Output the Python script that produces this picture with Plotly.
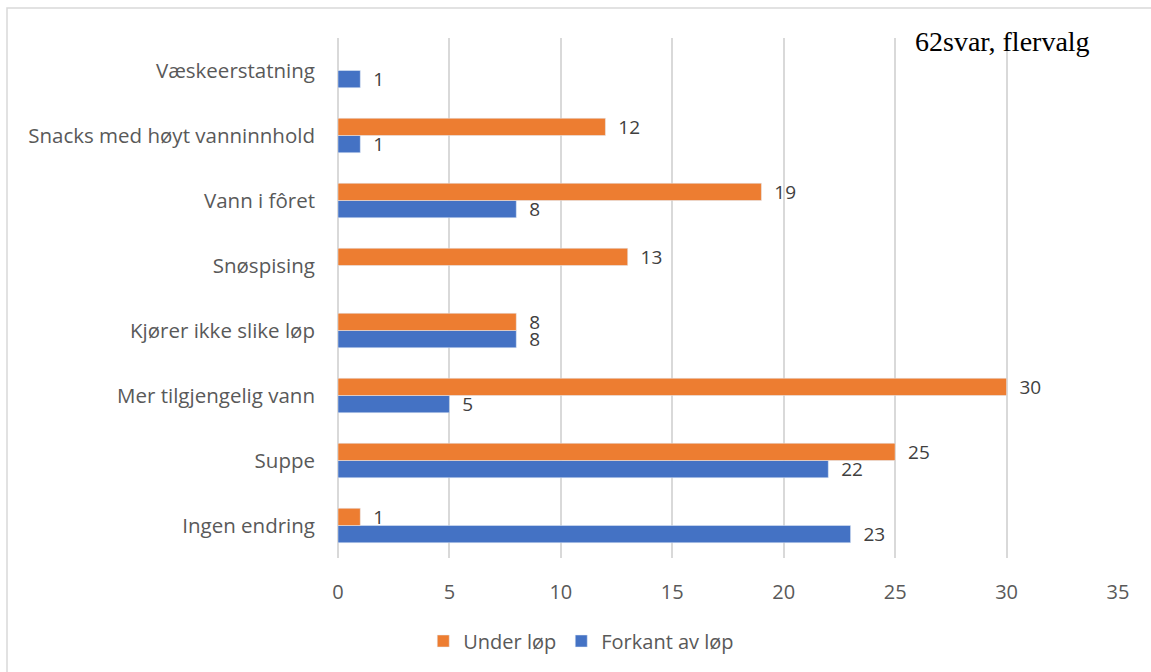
import plotly.graph_objects as go

categories = [
    "Ingen endring",
    "Suppe",
    "Mer tilgjengelig vann",
    "Kjører ikke slike løp",
    "Snøspising",
    "Vann i fôret",
    "Snacks med høyt vanninnhold",
    "Væskeerstatning",
]
under_lop = [1, 25, 30, 8, 13, 19, 12, None]
forkant_av_lop = [23, 22, 5, 8, None, 8, 1, 1]

ORANGE = "#ED7D31"
BLUE = "#4472C4"
FONT = "Open Sans"
TEXT_COLOR = "#595959"
FS = 20

W, H = 1151, 672
L, R, T, B = 338, 33, 38, 114

fig = go.Figure()
for name, vals, color, rank in [
    ("Forkant av løp", forkant_av_lop, BLUE, 2),
    ("Under løp", under_lop, ORANGE, 1),
]:
    fig.add_trace(go.Bar(
        y=categories, x=vals, name=name, orientation="h",
        marker=dict(color=color), legendrank=rank,
        texttemplate="\u00a0\u00a0%{x}", textposition="outside",
        cliponaxis=False, constraintext="none",
        textfont=dict(family=FONT, size=19, color="#404040"),
    ))

pw = W - L - R
ph = H - T - B
# light frame around the whole chart
fig.add_shape(
    type="rect", xref="paper", yref="paper",
    x0=(7 - L) / pw, x1=(W + 10 - L) / pw,
    y0=(H - B - (H + 10)) / ph, y1=(H - B - 8) / ph,
    line=dict(color="#d9d9d9", width=1.5), layer="below",
)
fig.add_annotation(
    text="62svar, flervalg", xref="paper", yref="paper",
    x=(1002 - L) / pw, y=(H - B - 42) / ph, showarrow=False,
    xanchor="center", yanchor="middle",
    font=dict(family="Liberation Serif", size=28, color="#000000"),
)

fig.update_layout(
    width=W, height=H,
    margin=dict(l=L, r=R, t=T, b=B),
    paper_bgcolor="white", plot_bgcolor="white",
    barmode="group", bargap=0.47, bargroupgap=0,
    font=dict(family=FONT, size=FS, color=TEXT_COLOR),
    showlegend=True,
    legend=dict(
        orientation="h", xref="container", yref="container",
        x=0.505, xanchor="center", y=(H - 641) / H, yanchor="middle",
        font=dict(family=FONT, size=FS, color=TEXT_COLOR),
        traceorder="normal", itemwidth=30,
    ),
    xaxis=dict(
        range=[0, 35], dtick=5, showgrid=True, gridcolor="#d9d9d9", gridwidth=1.5,
        zeroline=True, zerolinecolor="#d9d9d9", zerolinewidth=1.5,
        showline=False, ticks="", tickfont=dict(size=FS, color=TEXT_COLOR),
        ticklabelstandoff=20,
    ),
    yaxis=dict(
        categoryorder="array", categoryarray=categories,
        range=[-0.5, 7.5], showgrid=False, showline=False, ticks="",
        tickfont=dict(size=20.5, color=TEXT_COLOR), ticklabelstandoff=22,
    ),
)

fig.write_html("out.html")
